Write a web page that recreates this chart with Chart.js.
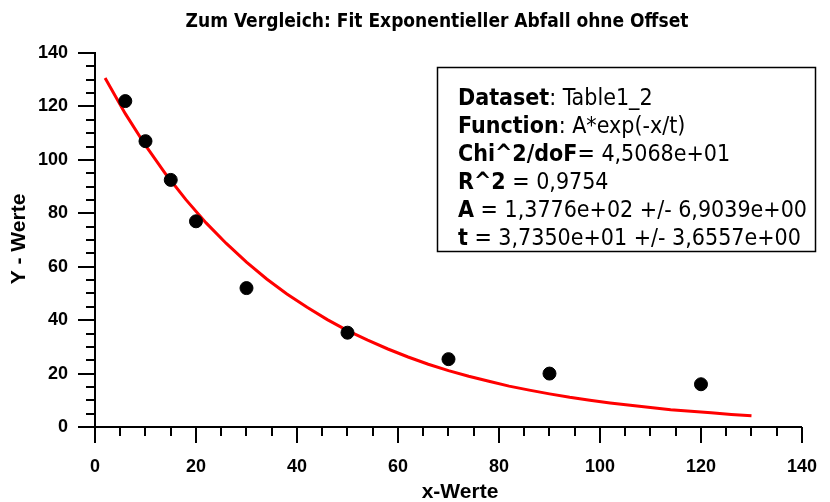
<!DOCTYPE html>
<html>
<head>
<meta charset="utf-8">
<script src="https://cdn.jsdelivr.net/npm/chart.js@4/dist/chart.umd.min.js"></script>
<style>
  html, body { margin: 0; padding: 0; background: #fff; }
</style>
</head>
<body>
<canvas id="myChart" width="830" height="502"></canvas>
<script>
// measured points
let measX = [6, 10, 15, 20, 30, 50, 70, 90, 120]
let measY = [122, 107, 92.5, 77, 52, 35.3, 25.4, 20, 16]

// fitted curve as drawn
let fitX = [2, 6, 10, 14, 18, 22, 26, 30, 34, 38, 42, 46, 50, 54, 58, 62, 66,
            70, 74, 78, 82, 86, 90, 94, 98, 102, 106, 110, 114, 118, 122, 126, 130]
let fitY = [130.6, 117.3, 105.4, 94.7, 85.1, 76.4, 68.7, 61.7, 55.4, 49.8, 44.8, 40.2, 36.1,
            32.5, 29.2, 26.2, 23.5, 21.1, 19.0, 17.1, 15.3, 13.8, 12.4, 11.1, 10.0, 9.0,
            8.1, 7.3, 6.5, 5.9, 5.3, 4.7, 4.2]

let majorTicks = [0, 20, 40, 60, 80, 100, 120, 140]

let titleText = 'Zum Vergleich: Fit Exponentieller Abfall ohne Offset'
let xTitle = 'x-Werte'
let yTitle = 'Y - Werte'

let fitLabels = ['Dataset', 'Function', 'Chi^2/doF', 'R^2', 'A', 't']
let fitValues = [': Table1_2', ': A*exp(-x/t)', '= 4,5068e+01', ' = 0,9754',
                 ' = 1,3776e+02 +/- 6,9039e+00', ' = 3,7350e+01 +/- 3,6557e+00']

const narrow = '"Liberation Sans Narrow", "DejaVu Sans Condensed", sans-serif'
const tickFont = { family: '"Liberation Sans", Arial, sans-serif', size: 18, weight: 'bold' }

const decorations = {
    id: 'decorations',
    afterDraw(chart) {
        let ctx = chart.ctx
        let a = chart.chartArea
        let xs = chart.scales.x
        let ys = chart.scales.y
        ctx.save()

        // tick marks, long on the labelled values
        ctx.strokeStyle = '#000'
        ctx.lineWidth = 2
        ctx.beginPath()
        xs.ticks.forEach(t => {
            let px = Math.round(xs.getPixelForValue(t.value))
            let len = majorTicks.includes(t.value) ? 16 : 9
            ctx.moveTo(px, a.bottom)
            ctx.lineTo(px, a.bottom + len)
        })
        ys.ticks.forEach(t => {
            let py = Math.round(ys.getPixelForValue(t.value))
            let len = majorTicks.includes(t.value) ? 17 : 9
            ctx.moveTo(a.left, py)
            ctx.lineTo(a.left - len, py)
        })
        ctx.stroke()

        // titles
        ctx.fillStyle = '#000'
        ctx.textAlign = 'center'
        ctx.textBaseline = 'middle'
        ctx.font = 'bold 19px ' + narrow
        ctx.fillText(titleText, 437, 22)

        ctx.font = 'bold 21px "Liberation Sans", Arial, sans-serif'
        ctx.fillText(xTitle, 460, 492)
        ctx.save()
        ctx.translate(19, 239)
        ctx.rotate(-Math.PI / 2)
        ctx.fillText(yTitle, 0, 0)
        ctx.restore()

        // fit result box
        ctx.lineWidth = 1.5
        ctx.strokeRect(437.5, 67.5, 378, 184)
        ctx.textAlign = 'left'
        ctx.textBaseline = 'alphabetic'
        fitLabels.forEach((lab, i) => {
            let y = 105 + i * 28
            ctx.font = 'bold 23px ' + narrow
            ctx.fillText(lab, 458, y)
            let w = ctx.measureText(lab).width
            ctx.font = '23px ' + narrow
            ctx.fillText(fitValues[i], 458 + w, y)
        })
        ctx.restore()
    },
}

let ctx = document.getElementById('myChart').getContext('2d')

let myChart = new Chart(ctx, {
    type: 'scatter',
    data: {
        datasets: [
            {
                data: measX.map((x, i) => ({ x: x, y: measY[i] })),
                backgroundColor: '#000',
                borderColor: '#000',
                pointRadius: 6.5,
                pointHoverRadius: 6.5,
                order: 1,
            },
            {
                type: 'line',
                data: fitX.map((x, i) => ({ x: x, y: fitY[i] })),
                borderColor: '#ff0000',
                borderWidth: 3,
                pointRadius: 0,
                tension: 0,
                fill: false,
                order: 2,
            },
        ],
    },
    options: {
        responsive: false,
        animation: false,
        events: [],
        layout: {
            padding: { left: 0, top: 53, right: 15, bottom: 0 },
        },
        plugins: {
            legend: { display: false },
            title: { display: false },
            tooltip: { enabled: false },
        },
        scales: {
            x: {
                type: 'linear',
                min: 0,
                max: 140,
                afterFit: (scale) => { scale.height = 75 },
                border: { display: true, color: '#000', width: 2 },
                grid: { drawOnChartArea: false, drawTicks: true, tickLength: 16, tickColor: 'rgba(0,0,0,0)' },
                ticks: {
                    stepSize: 5,
                    maxTicksLimit: 100,
                    autoSkip: false,
                    maxRotation: 0,
                    padding: 13,
                    color: '#000',
                    font: tickFont,
                    callback: (v) => majorTicks.includes(v) ? v : '',
                },
            },
            y: {
                type: 'linear',
                min: 0,
                max: 140,
                afterFit: (scale) => { scale.width = 95 },
                border: { display: true, color: '#000', width: 2 },
                grid: { drawOnChartArea: false, drawTicks: true, tickLength: 17, tickColor: 'rgba(0,0,0,0)' },
                ticks: {
                    stepSize: 5,
                    maxTicksLimit: 100,
                    autoSkip: false,
                    padding: 10,
                    color: '#000',
                    font: tickFont,
                    callback: (v) => majorTicks.includes(v) ? v : '',
                },
            },
        },
    },
    plugins: [decorations],
})
</script>
</body>
</html>
